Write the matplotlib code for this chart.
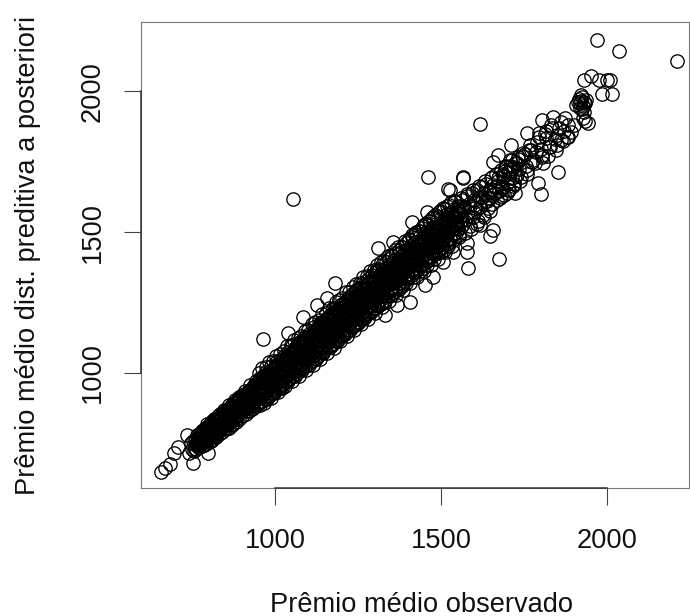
import matplotlib
matplotlib.use("Agg")
import matplotlib.pyplot as plt

plt.rcParams['font.family'] = ['Liberation Sans', 'DejaVu Sans']

# Isolated points
outlier_obs = [656,669,684,754,694,708,798,734,963,1084,1125,1020,1039,1054,1462,1522,1582,1675,1179,1156,
               1405,1367,1331,1566,1457,1412,1309,1355,1505,1537,1577,1577,1617,1648,1658,1452,1477,
               1970,2035,2210,1617,1851,1930,1952,1977,2001,2009,1985,2016,
               1760,1803,1838,1873,1883,1883,1868,1711,1673,1658,1793,1800,1808,1567,1723,1527]
outlier_pred = [650,662,676,680,715,739,716,780,1120,1200,1241,946,1142,1617,1694,1651,1371,1403,1320,1265,
                1251,1241,1206,1695,1572,1534,1444,1466,1395,1430,1430,1460,1525,1486,1507,1312,1341,
                2180,2143,2105,1882,1712,2039,2053,2039,2041,2039,1990,1989,
                1850,1897,1909,1903,1879,1838,1824,1809,1773,1749,1675,1635,1744,1690,1637,1649]

# Small cluster near the top right
cluster_obs = [1919,1915,1908,1924,1930,1918,1928,1934,1936,1926,1922,1932,1912,1921,1934,1942,1927,
               1900,1890,1880,1870,1860,1850,1845,1835,1825,1815,1805,1795,1785,1775,1765,1755,1745,1735,1725,1715,1705,1695,1685,
               1862,1848,1832,1822,1812,1800,1790,1778,1768,1758,1746,1738,1728,1718,1708,1698,1688,1678,
               1855,1842,1828,1816,1804,1794,1782,1772,1760,1752,1742,1732,1720,1712,1702,1692,1682,1672]
cluster_pred = [1956,1972,1950,1978,1961,1940,1946,1958,1970,1935,1965,1925,1962,1985,1895,1885,1905,
                1880,1855,1838,1860,1825,1845,1790,1870,1800,1835,1772,1852,1785,1748,1790,1735,1768,1725,1700,1755,1690,1730,1655,
                1890,1810,1878,1770,1848,1795,1820,1755,1808,1705,1780,1680,1745,1665,1722,1640,1705,1620,
                1870,1830,1800,1860,1765,1838,1745,1792,1720,1775,1695,1758,1670,1735,1650,1715,1628,1690]

# Dense band, estimated row by row along the observed premium
band_obs = [
 742,746,749,752,755,758,761,764,767,771,775,778,
 781,783,786,788,791,793,796,798,801,803,806,809,
 811,813,816,818,821,823,826,828,831,833,836,839,
 841,843,846,848,851,853,856,858,861,863,866,869,
 871,873,876,878,881,883,886,888,891,893,896,899,
 901,903,906,908,911,913,916,918,921,923,926,929,
 931,933,936,938,941,943,946,948,951,953,956,959,
 961,963,966,968,971,973,976,978,981,983,986,989,
 991,993,996,998,1001,1003,1006,1008,1011,1013,1016,1019,
 1021,1023,1026,1028,1031,1033,1036,1038,1041,1043,1046,1049,
 1051,1053,1056,1058,1061,1063,1066,1068,1071,1073,1076,1079,
 1081,1083,1086,1088,1091,1093,1096,1098,1101,1103,1106,1109,
 1111,1113,1116,1118,1121,1123,1126,1128,1131,1133,1136,1139,
 1141,1143,1146,1148,1151,1153,1156,1158,1161,1163,1166,1169,
 1171,1173,1176,1178,1181,1183,1186,1188,1191,1193,1196,1199,
 1201,1203,1206,1208,1211,1213,1216,1218,1221,1223,1226,1229,
 1231,1233,1236,1238,1241,1243,1246,1248,1251,1253,1256,1259,
 1261,1263,1266,1268,1271,1273,1276,1278,1281,1283,1286,1289,
 1291,1293,1296,1298,1301,1303,1306,1308,1311,1313,1316,1319,
 1321,1323,1326,1328,1331,1333,1336,1338,1341,1343,1346,1349,
 1351,1353,1356,1358,1361,1363,1366,1368,1371,1373,1376,1379,
 1381,1383,1386,1388,1391,1393,1396,1398,1401,1403,1406,1409,
 1411,1413,1416,1418,1421,1423,1426,1428,1431,1433,1436,1439,
 1441,1443,1446,1448,1451,1453,1456,1458,1461,1463,1466,1469,
 1471,1473,1476,1478,1481,1483,1486,1488,1491,1493,1496,1499,
 1502,1506,1511,1515,1519,1524,1528,1533,1537,1542,1546,1551,
 1555,1559,1564,1568,1573,1577,1582,1586,1591,1595,1600,1604,
 1608,1613,1618,1623,1628,1633,1638,1643,1648,1653,1658,1664,
]
band_pred = [
 716,752,732,758,722,764,729,745,772,737,770,747,
 741,778,760,803,748,789,767,812,755,797,775,816,
 763,822,785,806,772,838,792,815,784,845,800,826,
 790,857,812,832,800,868,822,846,806,876,830,855,
 814,888,842,862,826,896,850,874,838,906,861,884,
 848,916,872,892,856,926,880,905,866,938,889,914,
 872,948,898,922,884,958,910,932,893,968,919,944,
 902,980,930,952,908,990,941,962,920,1000,950,972,
 928,1012,958,982,936,1024,970,994,948,1032,982,1006,
 960,1044,990,1016,968,1056,1002,1026,978,1066,1012,1038,
 988,1078,1020,1048,996,1088,1034,1056,1008,1100,1042,1070,
 1018,1110,1050,1078,1024,1122,1062,1090,1036,1132,1072,1100,
 1044,1142,1082,1112,1054,1156,1094,1122,1064,1166,1104,1132,
 1072,1178,1112,1144,1084,1188,1124,1154,1092,1198,1136,1166,
 1100,1210,1144,1176,1112,1222,1156,1186,1122,1232,1166,1198,
 1132,1244,1174,1208,1140,1256,1188,1218,1152,1268,1198,1230,
 1162,1280,1206,1240,1170,1292,1220,1250,1182,1302,1230,1262,
 1192,1314,1238,1272,1200,1326,1252,1282,1212,1336,1262,1294,
 1222,1348,1270,1304,1230,1360,1284,1316,1242,1370,1294,1326,
 1252,1382,1304,1338,1260,1394,1316,1348,1272,1404,1328,1360,
 1284,1414,1336,1370,1292,1426,1350,1382,1304,1436,1360,1394,
 1316,1448,1370,1404,1326,1460,1382,1416,1338,1470,1394,1428,
 1346,1482,1402,1438,1358,1494,1414,1450,1370,1504,1426,1462,
 1380,1514,1436,1472,1390,1528,1446,1484,1402,1538,1458,1494,
 1412,1550,1468,1506,1422,1562,1480,1516,1434,1572,1490,1528,
 1446,1584,1502,1540,1458,1596,1516,1552,1470,1610,1528,1566,
 1482,1622,1542,1580,1496,1636,1556,1594,1510,1650,1572,1610,
 1530,1662,1590,1626,1552,1680,1610,1642,1574,1696,1630,1660,
]

# Second estimated pass over the same solid-black band
core_obs = [
 760,761,763,764,766,767,769,770,771,772,774,775,
 776,777,779,780,782,783,785,786,787,788,790,791,
 792,793,795,796,798,799,801,802,803,804,806,807,
 808,809,811,812,814,815,817,818,819,820,822,823,
 824,825,827,828,830,831,833,834,835,836,838,839,
 840,841,843,844,846,847,849,850,851,852,854,855,
 856,857,859,860,862,863,865,866,867,868,870,871,
 872,873,875,876,878,879,881,882,883,884,886,887,
 888,889,891,892,894,895,897,898,899,900,902,903,
 904,905,907,908,910,911,913,914,915,916,918,919,
 920,921,923,924,926,927,929,930,931,932,934,935,
 936,937,939,940,942,943,945,946,947,948,950,951,
 952,953,955,956,958,959,961,962,963,964,966,967,
 968,969,971,972,974,975,977,978,979,980,982,983,
 984,985,987,988,990,991,993,994,995,996,998,999,
 1000,1001,1003,1004,1006,1007,1009,1010,1011,1012,1014,1015,
 1016,1017,1019,1020,1022,1023,1025,1026,1027,1028,1030,1031,
 1032,1033,1035,1036,1038,1039,1041,1042,1043,1044,1046,1047,
 1048,1049,1051,1052,1054,1055,1057,1058,1059,1060,1062,1063,
 1064,1065,1067,1068,1070,1071,1073,1074,1075,1076,1078,1079,
 1080,1081,1083,1084,1086,1087,1089,1090,1091,1092,1094,1095,
 1096,1097,1099,1100,1102,1103,1105,1106,1107,1108,1110,1111,
 1112,1113,1115,1116,1118,1119,1121,1122,1123,1124,1126,1127,
 1128,1129,1131,1132,1134,1135,1137,1138,1139,1140,1142,1143,
 1144,1145,1147,1148,1150,1151,1153,1154,1155,1156,1158,1159,
 1160,1161,1163,1164,1166,1167,1169,1170,1171,1172,1174,1175,
 1176,1177,1179,1180,1182,1183,1185,1186,1187,1188,1190,1191,
 1192,1193,1195,1196,1198,1199,1201,1202,1203,1204,1206,1207,
 1208,1209,1211,1212,1214,1215,1217,1218,1219,1220,1222,1223,
 1224,1225,1227,1228,1230,1231,1233,1234,1235,1236,1238,1239,
 1240,1241,1243,1244,1246,1247,1249,1250,1251,1252,1254,1255,
 1256,1257,1259,1260,1262,1263,1265,1266,1267,1268,1270,1271,
 1272,1273,1275,1276,1278,1279,1281,1282,1283,1284,1286,1287,
 1288,1289,1291,1292,1294,1295,1297,1298,1299,1300,1302,1303,
 1304,1305,1307,1308,1310,1311,1313,1314,1315,1316,1318,1319,
 1320,1321,1323,1324,1326,1327,1329,1330,1331,1332,1334,1335,
 1336,1337,1339,1340,1342,1343,1345,1346,1347,1348,1350,1351,
 1352,1353,1355,1356,1358,1359,1361,1362,1363,1364,1366,1367,
 1368,1369,1371,1372,1374,1375,1377,1378,1379,1380,1382,1383,
 1384,1385,1387,1388,1390,1391,1393,1394,1395,1396,1398,1399,
 1400,1401,1403,1404,1406,1407,1409,1410,1411,1412,1414,1415,
 1416,1417,1419,1420,1422,1423,1425,1426,1427,1428,1430,1431,
 1432,1433,1435,1436,1438,1439,1441,1442,1443,1444,1446,1447,
 1448,1449,1451,1452,1454,1455,1457,1458,1459,1460,1462,1463,
 1464,1465,1467,1468,1470,1471,1473,1474,1475,1476,1478,1479,
 1480,1481,1483,1484,1486,1487,1489,1490,1491,1492,1494,1495,
 1496,1497,1499,1500,1502,1503,1505,1506,1507,1508,1510,1511,
 1512,1513,1515,1516,1518,1519,1521,1522,1523,1524,1526,1527,
 1528,1529,1531,1532,1534,1535,1537,1538,1539,1540,1542,1543,
 1544,1545,1547,1548,1550,1551,1553,1554,1555,1556,1558,1559,
]
core_pred = [
 732,765,747,779,755,774,738,760,784,743,770,751,
 779,750,793,765,799,757,784,745,789,769,797,761,
 770,804,789,820,764,794,810,782,774,815,759,799,
 825,799,782,818,792,835,804,828,777,813,788,838,
 792,830,809,847,818,841,799,824,853,804,836,814,
 844,811,860,827,868,818,850,805,855,832,865,823,
 832,870,852,888,824,859,877,844,836,883,818,865,
 892,862,843,884,854,904,868,896,837,878,849,907,
 852,896,872,914,882,908,860,888,921,866,902,877,
 909,871,927,890,936,879,915,864,922,895,932,885,
 892,937,916,957,884,923,944,907,898,951,877,930,
 959,925,903,950,916,972,931,963,897,943,910,975,
 911,961,934,982,945,974,920,953,990,927,968,940,
 973,931,994,952,1004,940,981,923,988,959,1000,946,
 953,1003,980,1026,944,988,1012,970,959,1019,936,995,
 1026,988,963,1016,978,1041,995,1031,956,1008,971,1045,
 970,1026,996,1050,1009,1042,980,1017,1059,988,1034,1003,
 1038,990,1061,1014,1073,1001,1047,982,1055,1022,1068,1008,
 1014,1069,1044,1095,1004,1052,1079,1032,1021,1087,995,1061,
 1092,1051,1024,1081,1040,1108,1059,1098,1017,1073,1033,1113,
 1031,1091,1058,1116,1072,1108,1042,1081,1126,1050,1100,1066,
 1103,1051,1128,1077,1140,1063,1112,1042,1121,1085,1135,1070,
 1076,1135,1108,1162,1064,1117,1145,1095,1083,1154,1055,1126,
 1158,1114,1085,1147,1103,1176,1123,1164,1077,1138,1095,1181,
 1091,1156,1121,1183,1136,1174,1103,1146,1194,1112,1166,1129,
 1168,1112,1194,1140,1207,1124,1177,1103,1187,1148,1202,1133,
 1138,1200,1172,1229,1126,1181,1211,1158,1145,1221,1116,1191,
 1224,1178,1148,1212,1166,1242,1186,1230,1140,1202,1158,1246,
 1154,1220,1184,1248,1200,1238,1166,1210,1259,1176,1230,1193,
 1232,1176,1258,1204,1271,1188,1241,1167,1251,1212,1266,1197,
 1202,1264,1236,1293,1190,1245,1275,1222,1209,1285,1180,1255,
 1288,1242,1212,1276,1230,1306,1250,1294,1204,1266,1222,1310,
 1218,1284,1248,1312,1264,1302,1230,1274,1323,1240,1294,1257,
 1296,1240,1322,1268,1335,1252,1305,1231,1315,1276,1330,1261,
 1266,1328,1300,1357,1254,1309,1339,1286,1273,1349,1244,1319,
 1352,1306,1276,1340,1294,1370,1314,1358,1268,1330,1286,1374,
 1282,1348,1312,1376,1328,1366,1294,1338,1387,1304,1358,1321,
 1362,1306,1388,1334,1401,1318,1371,1297,1381,1342,1396,1327,
 1332,1394,1366,1423,1320,1375,1405,1352,1339,1415,1310,1385,
 1418,1372,1342,1406,1360,1436,1380,1424,1334,1396,1352,1440,
 1348,1414,1378,1442,1394,1432,1360,1404,1453,1370,1424,1387,
 1426,1370,1452,1398,1465,1382,1435,1361,1445,1406,1460,1391,
 1396,1458,1430,1487,1384,1439,1469,1416,1403,1479,1374,1449,
 1482,1436,1406,1470,1424,1500,1444,1488,1398,1460,1416,1504,
 1412,1478,1442,1506,1458,1496,1424,1468,1517,1434,1488,1451,
 1490,1434,1516,1462,1529,1446,1499,1425,1509,1470,1524,1455,
 1460,1522,1494,1551,1448,1503,1533,1480,1467,1543,1438,1513,
 1546,1500,1470,1534,1488,1564,1508,1552,1462,1524,1480,1568,
 1476,1542,1506,1570,1522,1560,1488,1532,1581,1498,1552,1515,
 1554,1498,1580,1526,1593,1510,1563,1489,1573,1534,1588,1519,
]

# Upper edge of the band
upper_obs = [952,961,973,982,994,1003,1014,1026,1035,1047,1056,1068,1077,1089,1098,1110,1119,1131,1140,
             1152,1161,1173,1182,1194,1203,1215,1224,1236,1245,1257,1266,1278,1287,1299,1308,1320,1329,
             1341,1350,1362,1371,1383,1392,1404,1413,1425,1434,1446,1455,1467,1476,1488,1497,1509,1518,1530,1539]
upper_pred = [1001,1018,1022,1038,1043,1062,1067,1078,1095,1098,1116,1124,1132,1150,1153,1172,1180,1188,1208,
              1214,1230,1232,1252,1258,1266,1286,1288,1306,1314,1320,1340,1344,1362,1366,1382,1392,1396,
              1416,1420,1436,1446,1448,1468,1474,1488,1500,1502,1522,1528,1540,1552,1556,1574,1582,1592,1606,1610]

# Lower edge of the band
lower_obs = [955,966,975,987,996,1008,1017,1029,1038,1050,1059,1071,1080,1092,1101,1113,1122,1134,1143,
             1155,1164,1176,1185,1197,1206,1218,1227,1239,1248,1260,1269,1281,1290,1302,1311,1323,1332,
             1344,1353,1365,1374,1386,1395,1407,1416,1428,1437,1449,1458,1470,1479,1491,1500,1512,1521,1533]
lower_pred = [886,892,908,912,930,932,950,954,970,970,990,990,1010,1010,1030,1030,1050,1050,1072,
              1072,1092,1090,1112,1112,1134,1130,1154,1152,1174,1172,1196,1192,1216,1212,1236,1234,1256,
              1254,1278,1276,1298,1296,1320,1318,1342,1340,1362,1362,1384,1382,1406,1404,1428,1428,1450,1450]

# Looser stretch above the band
upper_run_obs = [1560,1563,1566,1570,1574,1577,1581,1585,1588,1592,1596,1599,1603,1607,1610,1614,
                 1618,1621,1625,1629,1632,1636,1640,1643,1647,1651,1654,1658,1662,1665,1669,1673,
                 1676,1680,1684,1687,1691,1695,1698,1702,1706,1709,1713,1717,1720,1724,1728,1732]
upper_run_pred = [1560,1612,1530,1590,1545,1628,1570,1600,1520,1640,1555,1615,1585,1648,1540,1625,
                  1590,1660,1562,1640,1610,1672,1585,1650,1620,1690,1600,1668,1640,1705,1615,1680,
                  1645,1720,1660,1700,1630,1735,1675,1712,1650,1755,1690,1728,1670,1745,1705,1765]

tick_values = [1000, 1500, 2000]
x_label = "Prêmio médio observado"
y_label = "Prêmio médio dist. preditiva a posteriori"

W, H = 690, 616
FS = 19.6
fig = plt.figure(figsize=(W/100, H/100), dpi=100)
ax = fig.add_axes([141/W, 1-488/H, (689-141)/W, (488-22)/H])
ax.plot(band_obs + core_obs + upper_obs + lower_obs + upper_run_obs + cluster_obs + outlier_obs,
        band_pred + core_pred + upper_pred + lower_pred + upper_run_pred + cluster_pred + outlier_pred,
        linestyle='none', marker='o', markersize=9.6, markerfacecolor='none',
        markeredgecolor='black', markeredgewidth=0.95)
ax.set_xlim(596, 2247)
ax.set_ylim(592, 2245)
ax.set_xticks(tick_values)
ax.set_yticks(tick_values)
ax.set_xticklabels([str(t) for t in tick_values], fontsize=FS)
ax.set_yticklabels([str(t) for t in tick_values], fontsize=FS, rotation=90, va='center')
ax.tick_params(axis='both', length=12.2, width=0.8, color='#444444', labelcolor='#111111')
ax.tick_params(axis='x', pad=16.5)
ax.tick_params(axis='y', pad=13)
for s in ax.spines.values():
    s.set_linewidth(0.8)
    s.set_color('#777777')
# R draws its axis line between the outer ticks on top of the box
axis_color = '#333333'
ax.plot([tick_values[0], tick_values[-1]], [592, 592], color=axis_color, lw=1.1, clip_on=False, zorder=3)
ax.plot([596, 596], [tick_values[0], tick_values[-1]], color=axis_color, lw=1.1, clip_on=False, zorder=3)
fig.text(270/W, 1-612.5/H, x_label, fontsize=FS, ha='left', va='baseline', color='#111111')
fig.text(35/W, 1-255/H, y_label, fontsize=FS, ha='center', va='baseline', rotation=90,
         rotation_mode='anchor', color='#111111')
fig.savefig("out.png", dpi=100)
